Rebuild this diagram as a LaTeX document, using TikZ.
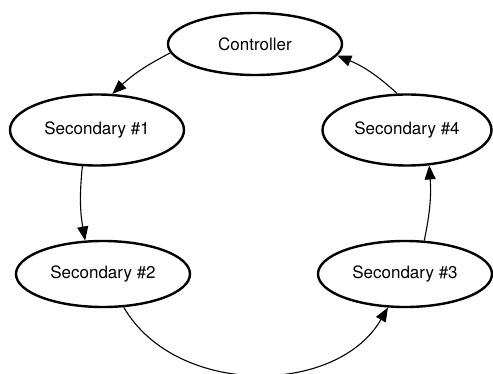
\documentclass[tikz,border=0pt]{standalone}
\usepackage{fontspec}
\setmainfont{TeX Gyre Heros}
\usetikzlibrary{arrows.meta,shapes.geometric,positioning}

\begin{document}
\begin{tikzpicture}[x=1pt,y=1pt,>={Triangle[length=14pt,width=11pt]},
every node/.style = {align=center, font=\fontsize{17}{20}\selectfont},
station/.style={ellipse, draw=black, line width=2.4pt, inner sep=0pt,
    minimum width=174pt, minimum height=#1},
link/.style={->, line width=1.1pt}]
\useasboundingbox (0,0) rectangle (493,373);

\node [station=62pt] (ctrl) at (255,329) {Controller};
\node [station=71pt] (sec1) at (97,243) {Secondary \#1};
\node [station=66pt] (sec2) at (103,99) {Secondary \#2};
\node [station=66pt] (sec3) at (405,99) {Secondary \#3};
\node [station=71pt, minimum width=169pt] (sec4) at (407,243) {Secondary \#4};

\draw [link] (ctrl.186) to [bend right=8] (sec1.67);
\draw [link] (sec1.248) to [bend right=8] (sec2.118);
\draw [link] (sec2.302) to [bend right=60] (sec3.243);
\draw [link] (sec3.60) to [bend right=8] (sec4.302);
\draw [link] (sec4.105) to [bend right=10] (ctrl.352);
\end{tikzpicture}
\end{document}
